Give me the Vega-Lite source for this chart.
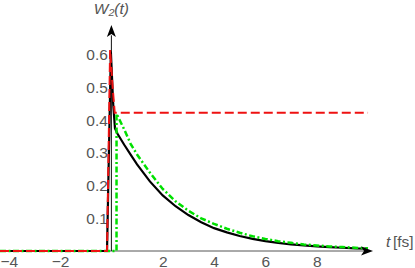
{
  "$schema": "https://vega.github.io/schema/vega-lite/v6.json",
  "width": 415,
  "height": 268,
  "autosize": "none",
  "padding": 0,
  "background": "white",
  "config": {"view": {"stroke": null}},
  "datasets": {
    "black": [
      {"t": -4.34, "w": 0}, {"t": -0.17, "w": 0}, {"t": -0.02, "w": 0.61}, {"t": 0.07, "w": 0.45},
      {"t": 0.14, "w": 0.375}, {"t": 0.25, "w": 0.357}, {"t": 0.5, "w": 0.325}, {"t": 0.75, "w": 0.295},
      {"t": 1, "w": 0.265}, {"t": 1.5, "w": 0.213}, {"t": 2, "w": 0.17}, {"t": 2.5, "w": 0.137},
      {"t": 3, "w": 0.11}, {"t": 3.5, "w": 0.088}, {"t": 4, "w": 0.07}, {"t": 4.5, "w": 0.057},
      {"t": 5, "w": 0.046}, {"t": 5.5, "w": 0.037}, {"t": 6, "w": 0.03}, {"t": 6.5, "w": 0.025},
      {"t": 7, "w": 0.02}, {"t": 7.5, "w": 0.017}, {"t": 8, "w": 0.014}, {"t": 8.5, "w": 0.012},
      {"t": 9, "w": 0.01}, {"t": 9.5, "w": 0.008}, {"t": 10, "w": 0.007}
    ],
    "green": [
      {"t": -4.34, "w": 0}, {"t": 0.2, "w": 0}, {"t": 0.201, "w": 0.42}, {"t": 0.5, "w": 0.372},
      {"t": 0.75, "w": 0.328}, {"t": 1, "w": 0.295}, {"t": 1.5, "w": 0.24}, {"t": 2, "w": 0.19},
      {"t": 2.5, "w": 0.152}, {"t": 3, "w": 0.123}, {"t": 3.5, "w": 0.1}, {"t": 4, "w": 0.083},
      {"t": 4.5, "w": 0.068}, {"t": 5, "w": 0.056}, {"t": 5.5, "w": 0.045}, {"t": 6, "w": 0.037},
      {"t": 6.5, "w": 0.03}, {"t": 7, "w": 0.025}, {"t": 7.5, "w": 0.02}, {"t": 8, "w": 0.017},
      {"t": 8.5, "w": 0.014}, {"t": 9, "w": 0.012}, {"t": 9.5, "w": 0.01}, {"t": 10, "w": 0.008}
    ],
    "red": [
      {"t": -4.34, "w": 0}, {"t": -0.17, "w": 0}, {"t": -0.05, "w": 0.615}, {"t": 0.05, "w": 0.5},
      {"t": 0.13, "w": 0.423}, {"t": 10, "w": 0.423}
    ],
    "axes": [
      {"t": -4.34, "t2": 9.9, "w": 0, "w2": 0, "c": "x"},
      {"t": 0, "t2": 0, "w": 0, "w2": 0.66, "c": "y"}
    ],
    "arrows": [
      {"t": 9.96, "w": 0, "d": "x"},
      {"t": 0, "w": 0.673, "d": "y"}
    ],
    "xmajor": [{"t": -4}, {"t": -2}, {"t": 2}, {"t": 4}, {"t": 6}, {"t": 8}],
    "xminor": [
      {"t": -3.5}, {"t": -3}, {"t": -2.5}, {"t": -1.5}, {"t": -1}, {"t": -0.5}, {"t": 0.5}, {"t": 1},
      {"t": 1.5}, {"t": 2.5}, {"t": 3}, {"t": 3.5}, {"t": 4.5}, {"t": 5}, {"t": 5.5}, {"t": 6.5},
      {"t": 7}, {"t": 7.5}, {"t": 8.5}, {"t": 9}, {"t": 9.5}
    ],
    "ymajor": [{"w": 0.1}, {"w": 0.2}, {"w": 0.3}, {"w": 0.4}, {"w": 0.5}, {"w": 0.6}],
    "yminor": [
      {"w": 0.02}, {"w": 0.04}, {"w": 0.06}, {"w": 0.08}, {"w": 0.12}, {"w": 0.14}, {"w": 0.16}, {"w": 0.18},
      {"w": 0.22}, {"w": 0.24}, {"w": 0.26}, {"w": 0.28}, {"w": 0.32}, {"w": 0.34}, {"w": 0.36}, {"w": 0.38},
      {"w": 0.42}, {"w": 0.44}, {"w": 0.46}, {"w": 0.48}, {"w": 0.52}, {"w": 0.54}, {"w": 0.56}, {"w": 0.58},
      {"w": 0.62}, {"w": 0.64}
    ]
  },
  "encoding": {
    "x": {
      "field": "t", "type": "quantitative",
      "scale": {"domain": [-4.34, 11.83], "nice": false, "zero": false},
      "axis": {
        "orient": "bottom", "offset": -17, "domain": false, "grid": false, "title": null, "ticks": false,
        "values": [-4, -2, 2, 4, 6, 8],
        "format": "d", "labelPadding": 3, "labelFontSize": 15.5, "labelFont": "Liberation Sans",
        "labelColor": "#555555", "labelFlush": false, "labelOverlap": false, "labelBound": false
      }
    },
    "y": {
      "field": "w", "type": "quantitative",
      "scale": {"domain": [-0.052, 0.768], "nice": false, "zero": false},
      "axis": {
        "orient": "left", "offset": -111.4, "domain": false, "grid": false, "title": null, "ticks": false,
        "values": [0.1, 0.2, 0.3, 0.4, 0.5, 0.6],
        "format": ".1f", "labelPadding": 4, "labelFontSize": 15.5, "labelFont": "Liberation Sans",
        "labelColor": "#555555", "labelFlush": false, "labelOverlap": false, "labelBound": false
      }
    }
  },
  "layer": [
    {
      "data": {"name": "xmajor"},
      "mark": {"type": "rule", "color": "#555555", "strokeWidth": 1},
      "encoding": {"y": {"datum": 0, "type": "quantitative"}, "y2": {"datum": 0.0125}}
    },
    {
      "data": {"name": "xminor"},
      "mark": {"type": "rule", "color": "#555555", "strokeWidth": 1},
      "encoding": {"y": {"datum": 0, "type": "quantitative"}, "y2": {"datum": 0.0065}}
    },
    {
      "data": {"name": "ymajor"},
      "mark": {"type": "rule", "color": "#555555", "strokeWidth": 1},
      "encoding": {"x": {"datum": 0, "type": "quantitative"}, "x2": {"datum": 0.16}}
    },
    {
      "data": {"name": "yminor"},
      "mark": {"type": "rule", "color": "#555555", "strokeWidth": 1},
      "encoding": {"x": {"datum": 0, "type": "quantitative"}, "x2": {"datum": 0.085}}
    },
    {
      "data": {"name": "axes"},
      "mark": {"type": "rule", "strokeWidth": 1},
      "encoding": {
        "x2": {"field": "t2"},
        "y2": {"field": "w2"},
        "color": {"field": "c", "type": "nominal", "scale": {"domain": ["x", "y"], "range": ["#555555", "#111111"]}, "legend": null}
      }
    },
    {
      "data": {"name": "black"},
      "mark": {"type": "line", "color": "black", "strokeWidth": 2.2}
    },
    {
      "data": {"name": "green"},
      "mark": {"type": "line", "color": "#00e000", "strokeWidth": 2.5, "strokeDash": [6, 2.5, 2, 2.5]}
    },
    {
      "data": {"name": "red"},
      "mark": {"type": "line", "color": "#ee1111", "strokeWidth": 2, "strokeDash": [9, 4]}
    },
    {
      "data": {"name": "arrows"},
      "mark": {"type": "point", "filled": true, "opacity": 1, "size": 144},
      "encoding": {
        "shape": {"field": "d", "type": "nominal", "scale": {"domain": ["x", "y"], "range": ["M1,0L-1,-0.75L-0.5,0L-1,0.75Z", "M0,-1L-0.75,1L0,0.5L0.75,1Z"]}, "legend": null},
        "color": {"value": "black"}
      }
    },
    {
      "data": {"values": [{"t": 0, "w": 0.741, "s": "W₂(t)"}]},
      "mark": {"type": "text", "font": "Liberation Sans", "fontSize": 15.5, "fontStyle": "italic", "color": "#555555", "align": "center", "baseline": "middle"},
      "encoding": {"text": {"field": "s"}}
    },
    {
      "data": {"values": [{"t": 10.7, "w": 0.029, "s": "t"}]},
      "mark": {"type": "text", "font": "Liberation Sans", "fontSize": 15.5, "fontStyle": "italic", "color": "#555555", "align": "left", "baseline": "middle"},
      "encoding": {"text": {"field": "s"}}
    },
    {
      "data": {"values": [{"t": 10.97, "w": 0.029, "s": "[fs]"}]},
      "mark": {"type": "text", "font": "Liberation Sans", "fontSize": 15.5, "color": "#555555", "align": "left", "baseline": "middle"},
      "encoding": {"text": {"field": "s"}}
    }
  ]
}
